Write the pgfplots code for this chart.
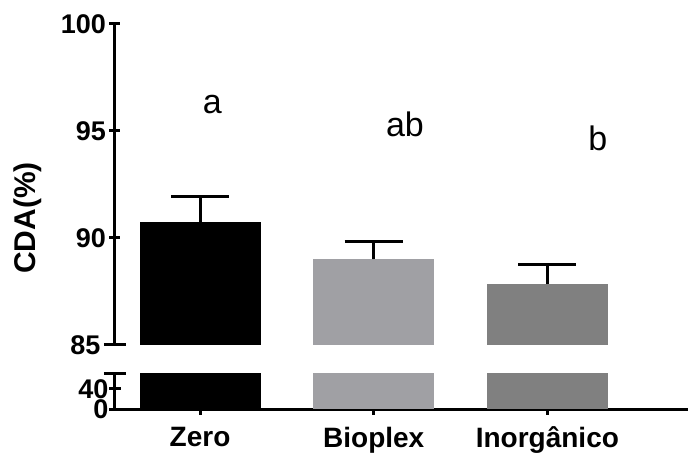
\documentclass[border=0pt]{standalone}
\usepackage{fontspec}
\setmainfont{Liberation Sans}
\usepackage{pgfplots}
\pgfplotsset{compat=1.18}
\usetikzlibrary{calc}
\definecolor{cBio}{RGB}{160,160,164}
\definecolor{cInorg}{RGB}{128,128,128}
\begin{document}
\begin{tikzpicture}
\pgfplotsset{
  common/.style={
    scale only axis, width=573pt, xmin=0.51, xmax=3.81,
    anchor=south west,
    major tick style={line width=3pt, black},
    tick align=outside, major tick length=11pt,
    /pgf/number format/assume math mode=true,
    yticklabel style={font=\bfseries\fontsize{27}{27}\selectfont},
    ybar, bar width=121pt, clip=true,
    axis y line=left,
  },
  noarrows/.style={
    every outer x axis line/.append style={-, line width=3pt},
    every outer y axis line/.append style={-, line width=3pt},
    every inner x axis line/.append style={-, line width=3pt},
    every inner y axis line/.append style={-, line width=3pt},
    axis line style={-, line width=3pt},
  }
}
% bottom segment
\begin{axis}[common, name=bot, at={(0pt,0pt)}, height=35pt,
  ymin=0, ymax=70, ytick={0,40},
  extra y ticks={70}, extra y tick labels={},
  extra y tick style={tick align=center, major tick length=22pt},
  axis x line=bottom,
  xtick={1,2,3}, xticklabels={Zero,Bioplex,Inorgânico},
  xticklabel style={font=\bfseries\fontsize{28}{28}\selectfont, yshift=-9pt},
  yticklabel style={inner sep=1pt},
  noarrows,
]
\addplot[fill=black, draw=none, bar shift=0pt] coordinates {(1,90.75)};
\addplot[fill=cBio, draw=none, bar shift=0pt] coordinates {(2,89.0)};
\addplot[fill=cInorg, draw=none, bar shift=0pt] coordinates {(3,87.85)};
\end{axis}
% top segment
\begin{axis}[common, name=top, at={($(bot.south west)+(0pt,64pt)$)}, height=321pt,
  ymin=85, ymax=100, ytick={90,95,100},
  extra y ticks={85},
  extra y tick style={tick align=center, major tick length=22pt},
  axis x line=none,
  error bars/error bar style={line width=3pt, black},
  error bars/error mark options={line width=3pt, black, mark size=29pt, rotate=90},
  noarrows,
]
\addplot[fill=black, draw=none, bar shift=0pt,
  error bars/.cd, y dir=plus, y explicit] coordinates {(1,90.75) +- (0,1.17)};
\addplot[fill=cBio, draw=none, bar shift=0pt,
  error bars/.cd, y dir=plus, y explicit] coordinates {(2,89.0) +- (0,0.83)};
\addplot[fill=cInorg, draw=none, bar shift=0pt,
  error bars/.cd, y dir=plus, y explicit] coordinates {(3,87.85) +- (0,0.89)};
\node[anchor=base, font=\fontsize{34}{34}\selectfont] at (axis cs:1.07,95.84) {a};
\node[anchor=base, font=\fontsize{34}{34}\selectfont] at (axis cs:2.18,94.72) {ab};
\node[anchor=base, font=\fontsize{34}{34}\selectfont] at (axis cs:3.29,94.11) {b};
\end{axis}
\node[rotate=90, font=\bfseries\fontsize{30}{30}\selectfont] at ($(bot.south west)+(-87pt,191pt)$) {CDA(\%)};
\pgfresetboundingbox
\path[use as bounding box] ($(bot.south west)+(-115pt,-46pt)$) rectangle +(688pt,455pt);
\end{tikzpicture}
\end{document}
